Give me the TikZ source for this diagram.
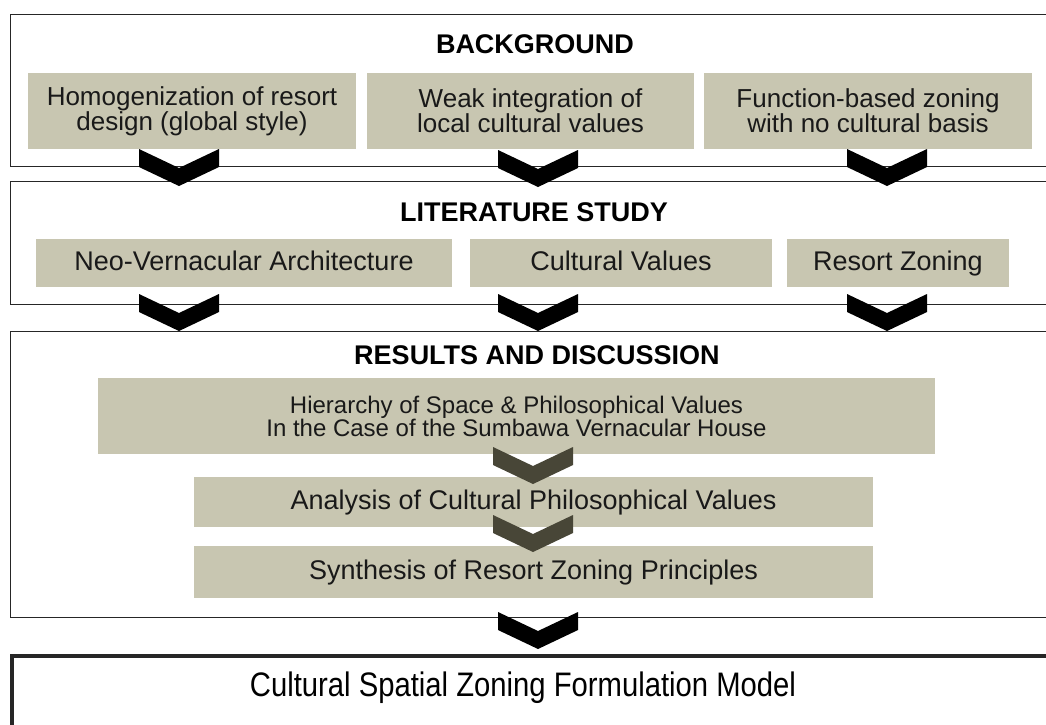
\documentclass[tikz,border=0pt]{standalone}
\usepackage{fontspec}
\setmainfont{Liberation Sans}
\usepackage{graphicx}
\usepackage{tikz}
\definecolor{boxfill}{RGB}{200,198,177}
\definecolor{chevdark}{RGB}{72,70,55}
\tikzstyle{frame} = [draw=black!85, line width=1.4pt, anchor=north west, inner sep=0pt]
\tikzstyle{item} = [fill=boxfill, align=center, inner sep=0pt, text=black!90]
\tikzstyle{oneline} = [item, font=\fontsize{27}{26}\selectfont, text height=19pt, text depth=5pt]
\tikzstyle{title} = [font=\fontsize{27}{30}\selectfont\bfseries]
\tikzset{chevron/.pic={\fill[#1] (-40,0) -- (-40,18) -- (0,37) -- (40,18) -- (40,0) -- (0,19) -- cycle;}}

\begin{document}
\begin{tikzpicture}[x=1pt,y=-1pt]
	\useasboundingbox (0,0) rectangle (1046,724);
	\tikzstyle{every node}=[font=\fontsize{26}{24}\selectfont]
	
	% ------------------- Section frames ------------------- %
	\node[frame, minimum width=1040, minimum height=152] (bgframe) at (10,14) {};
	\node[frame, minimum width=1040, minimum height=123] (litframe) at (10,181) {};
	\node[frame, minimum width=1040, minimum height=286] (resframe) at (10,331) {};
	\node[frame, line width=3.5pt, minimum width=1040, minimum height=110] (modelframe) at (10,654) {};
	
	% ------------------- Background ------------------- %
	\node[title] (bgtitle) at (535,44) {BACKGROUND};
	\node[item, minimum width=328, minimum height=76] (homog) at (192,111) {Homogenization of resort\\design (global style)};
	\node[item, minimum width=327, minimum height=76] (weak) at (530.5,111) {Weak integration of\\local cultural values};
	\node[item, minimum width=328, minimum height=76] (func) at (868,111) {Function-based zoning\\with no cultural basis};
	
	% ------------------- Literature study ------------------- %
	\node[title] (littitle) at (534,212) {LITERATURE STUDY};
	\node[oneline, minimum width=416, minimum height=48] (neo) at (244,263) {Neo-Vernacular Architecture};
	\node[oneline, minimum width=302, minimum height=48] (values) at (621,263) {Cultural Values};
	\node[oneline, minimum width=222, minimum height=48] (zoning) at (898,263) {Resort Zoning};
	
	% ------------------- Results and discussion ------------------- %
	\node[title] (restitle) at (537,355) {RESULTS AND DISCUSSION};
	\node[item, font=\fontsize{24}{23}\selectfont, minimum width=837, minimum height=76] (hier) at (516.5,416) {Hierarchy of Space \& Philosophical Values\\In the Case of the Sumbawa Vernacular House};
	\node[oneline, minimum width=679, minimum height=50] (analysis) at (533.5,502) {Analysis of Cultural Philosophical Values};
	\node[oneline, minimum width=679, minimum height=52] (synth) at (533.5,572) {Synthesis of Resort Zoning Principles};
	
	% ------------------- Model ------------------- %
	\node[font=\fontsize{34}{36}\selectfont] (model) at (523,688) {\scalebox{0.86}[1]{Cultural Spatial Zoning Formulation Model}};
	
	% ------------------- Chevrons ------------------- %
	\pic at (179,149) {chevron=black};
	\pic at (538,150) {chevron=black};
	\pic at (887,149) {chevron=black};
	
	\pic at (179,294) {chevron=black};
	\pic at (538,294) {chevron=black};
	\pic at (887,294) {chevron=black};
	
	\pic at (533,447) {chevron=chevdark};
	\pic at (533,515) {chevron=chevdark};
	
	\pic at (538,612) {chevron=black};
\end{tikzpicture}
\end{document}
